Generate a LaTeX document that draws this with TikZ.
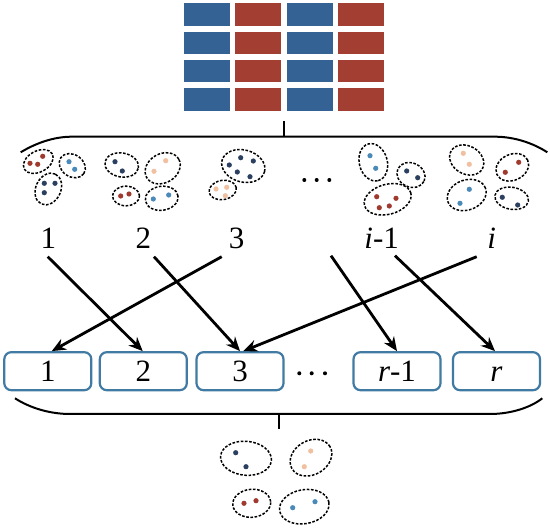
\documentclass[tikz,border=0pt]{standalone}
\usepackage{fontspec}
\setmainfont{Liberation Serif}
\newfontfamily\labfont{Liberation Serif}
\usetikzlibrary{arrows.meta}
\definecolor{cblue}{RGB}{52,98,148}
\definecolor{cred}{RGB}{162,62,50}
\definecolor{dred}{RGB}{160,57,46}
\definecolor{dnavy}{RGB}{43,64,96}
\definecolor{dlblue}{RGB}{74,138,184}
\definecolor{dpeach}{RGB}{240,192,160}
\definecolor{boxcol}{RGB}{65,122,162}
\tikzset{
  cell/.style={inner sep=0pt, minimum width=46pt, minimum height=22.5pt},
  grp/.style={draw=black, dash pattern=on 2.6pt off 1.6pt, line width=1.5pt},
  brace/.style={line width=2pt, black},
  lab/.style={font=\labfont\fontsize{31}{36}\selectfont, inner sep=0pt, anchor=base},
  rbox/.style={draw=boxcol, line width=2.2pt, rounded corners=7pt, minimum width=87pt, minimum height=38pt, inner sep=0pt, text height=20pt, text depth=0pt, font=\labfont\fontsize{31}{36}\selectfont},
  arr/.style={line width=2.8pt, -{Stealth[length=14pt,width=12pt]}}
}
\newcommand{\grpell}[5]{\draw[grp, rotate around={#5:(#1,#2)}] (#1,#2) ellipse [x radius=#3pt, y radius=#4pt];}
\newcommand{\gdot}[3]{\fill[#1] (#2,#3) circle [radius=2.6pt];}
\begin{document}
\begin{tikzpicture}[x=1pt,y=-1pt]
\useasboundingbox (0,0) rectangle (550,529);
% grid
\foreach \r in {0,1,2,3}{
  \foreach \c/\col in {0/cblue,1/cred,2/cblue,3/cred}{
    \node[cell, fill=\col] (g\r\c) at ({207+\c*51.3},{14.5+\r*28.3}) {};
  }
}
% top brace
\draw[brace] (20.7,152.3) .. controls (36,143) and (54,136.7) .. (71.7,136.7) -- (495,136.7) .. controls (514,136.7) and (533,143) .. (547.3,152.3);
\draw[brace] (284,137) -- (284,121.5);
% group 1
\grpell{38.3}{161.5}{16}{10.5}{28}
\gdot{dred}{42.7}{156.3}\gdot{dred}{30}{163.3}\gdot{dred}{37.7}{164.3}
\grpell{72.3}{165.7}{14}{11}{-35}
\gdot{dlblue}{69}{161.7}\gdot{dlblue}{74.7}{169.3}
\grpell{48.3}{189}{16.5}{12.5}{65}
\gdot{dnavy}{44.3}{183.3}\gdot{dnavy}{55}{183.3}\gdot{dnavy}{44.3}{192.7}
% group 2
\grpell{121.7}{165}{17}{12}{-10}
\gdot{dnavy}{115}{161.7}\gdot{dnavy}{122.3}{171}
\grpell{162.7}{168.3}{18.5}{14.5}{30}
\gdot{dpeach}{165.7}{160.7}\gdot{dpeach}{154}{171.3}
\grpell{126}{196}{13.5}{9.8}{0}
\gdot{dred}{120.7}{196}\gdot{dred}{129}{194}
\grpell{161.7}{198.3}{16.5}{12}{8}
\gdot{dlblue}{153.3}{199}\gdot{dlblue}{168.7}{195}
% group 3
\grpell{243.3}{166}{22}{16}{-15}
\gdot{dnavy}{229.3}{165}\gdot{dnavy}{240.7}{157.7}\gdot{dnavy}{253.3}{161}\gdot{dnavy}{237.3}{172}\gdot{dnavy}{250}{176.7}
\grpell{222.7}{190}{13.8}{9.6}{10}
\gdot{dpeach}{216}{189}\gdot{dpeach}{226.7}{187.3}\gdot{dpeach}{225.3}{195.7}
% dots
\foreach \x in {304.3,316.7,329.3}{\fill (\x,180) circle [radius=2pt];}
% group 4
\grpell{373.3}{162.3}{19}{14}{-75}
\gdot{dlblue}{370}{155.7}\gdot{dlblue}{375.7}{168.3}
\grpell{411}{175}{14.5}{12}{-25}
\gdot{dnavy}{406.7}{171}\gdot{dnavy}{417.7}{177.7}
\grpell{387.7}{199.3}{24}{15}{15}
\gdot{dred}{376.7}{196.7}\gdot{dred}{396}{198.3}\gdot{dred}{379.3}{207.7}\gdot{dred}{389.3}{206}
% group 5
\grpell{466.7}{160}{18}{14}{-30}
\gdot{dpeach}{463.3}{153.3}\gdot{dpeach}{469.3}{164.3}
\grpell{512.3}{167.3}{17}{13}{25}
\gdot{dred}{518.7}{162.3}\gdot{dred}{505.3}{172.3}
\grpell{466.7}{195}{20}{15}{20}
\gdot{dlblue}{469.3}{189.3}\gdot{dlblue}{460}{203.3}
\grpell{511.7}{198.3}{17}{11}{-10}
\gdot{dnavy}{502.3}{197.3}\gdot{dnavy}{517.7}{205}
% labels
\node[lab] (l1) at (48.3,248.5) {1};
\node[lab] (l2) at (143.3,248.5) {2};
\node[lab] (l3) at (236.7,248.5) {3};
\node[lab] (li1) at (381.7,248.5) {\textit{i}-1};
\node[lab] (li) at (491.7,248.5) {\textit{i}};
% boxes
\node[rbox] (b1) at (47.8,371.2) {1};
\node[rbox] (b2) at (143.3,371.2) {2};
\node[rbox] (b3) at (240,371.2) {3};
\node[rbox] (br1) at (397,371.2) {\textit{r}-1};
\node[rbox] (br) at (496.5,371.2) {\textit{r}};
\foreach \x in {299.3,311.7,325}{\fill (\x,373.3) circle [radius=2pt];}
% arrow start coordinates
\coordinate (s1) at (47.7,256.7);
\coordinate (s2) at (154,256.7);
\coordinate (s3) at (221.7,256.7);
\coordinate (si1a) at (331,255.7);
\coordinate (si1b) at (395,255.7);
\coordinate (si) at (476.7,256.7);
\draw[arr] (s1) -- ([xshift=-0.6pt]b2.north);
\draw[arr] (s2) -- (b3.north);
\draw[arr] (s3) -- ([xshift=4pt]b1.north);
\draw[arr] (si) -- ([xshift=3.3pt]b3.north);
\draw[arr] (si1a) -- (br1.north);
\draw[arr] (si1b) -- ([xshift=-1.5pt]br.north);
% bottom brace
\draw[brace] (15,398.3) .. controls (30,408) and (50,414) .. (70,414) -- (490,414) .. controls (510,414) and (530,408) .. (542.3,398.3);
\draw[brace] (279,413.5) -- (279,429);
% bottom groups
\grpell{246}{458.3}{25.5}{17}{-5}
\gdot{dnavy}{235.7}{452.7}\gdot{dnavy}{246}{466.7}
\grpell{311}{457.7}{22}{17}{30}
\gdot{dpeach}{310.7}{451}\gdot{dpeach}{304.3}{466.7}
\grpell{251.7}{503.3}{19}{14}{5}
\gdot{dred}{244}{503.3}\gdot{dred}{256}{500.7}
\grpell{304.3}{506.7}{25}{17}{10}
\gdot{dlblue}{292.7}{507.7}\gdot{dlblue}{315}{501.7}
\end{tikzpicture}
\end{document}
